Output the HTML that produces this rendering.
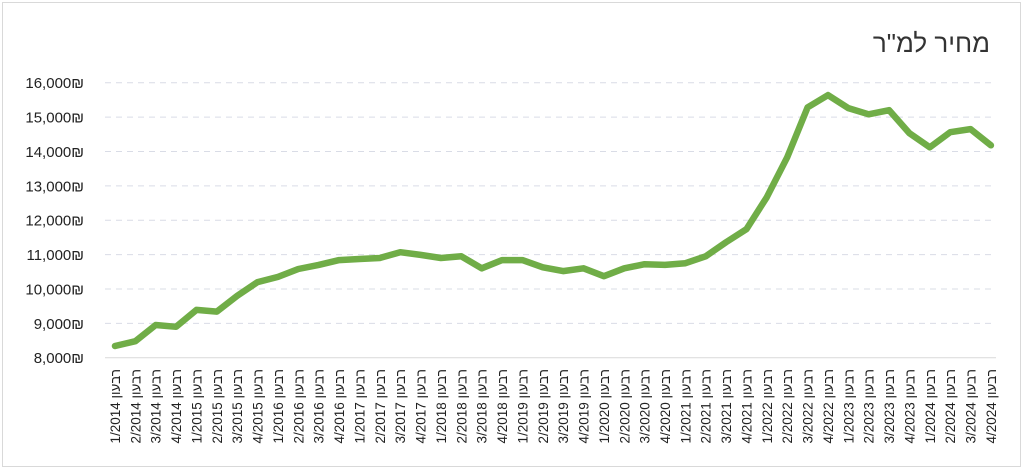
<!DOCTYPE html>
<html><head><meta charset="utf-8"><style>
html,body{margin:0;padding:0;background:#fff;}
svg{display:block;font-family:"Liberation Sans","DejaVu Sans",sans-serif;}
</style></head><body>
<svg width="1024" height="471" viewBox="0 0 1024 471" xmlns="http://www.w3.org/2000/svg">
<rect x="2.5" y="2.5" width="1018" height="464" fill="#fff" stroke="#d9d9d9" stroke-width="1"/>
<text x="990" y="52" text-anchor="end" font-size="26" fill="#333" font-family="Liberation Sans, DejaVu Sans, sans-serif">מחיר למ"ר</text>
<g id="grid" stroke="#d9dce6" stroke-width="1" stroke-dasharray="6,5"></g>
<line x1="105" y1="357.7" x2="996" y2="357.7" stroke="#d9d9d9" stroke-width="1"/>
<g id="ylab" font-size="15" fill="#222" text-anchor="end"></g>
<g id="xlab" font-size="13.5" fill="#222"></g>
<polyline id="line" fill="none" stroke="#70ad47" stroke-width="6.5" stroke-linejoin="round" stroke-linecap="round"/>
</svg>
<script>
var vals=[8340,8480,8950,8900,9390,9340,9800,10200,10350,10580,10700,10840,10870,10900,11070,10990,10900,10950,10600,10840,10840,10630,10520,10600,10370,10600,10720,10700,10750,10950,11360,11740,12670,13830,15280,15640,15260,15080,15200,14530,14120,14560,14650,14180];
function Y(v){return 357.7-(v-8000)*0.034375;}
var ns="http://www.w3.org/2000/svg";
var g=document.getElementById('grid'),yl=document.getElementById('ylab'),xl=document.getElementById('xlab');
for(var v=8000;v<=16000;v+=1000){
 if(v>8000){var l=document.createElementNS(ns,'line');l.setAttribute('x1',105);l.setAttribute('x2',996);l.setAttribute('y1',Y(v));l.setAttribute('y2',Y(v));g.appendChild(l);}
 var t=document.createElementNS(ns,'text');t.setAttribute('x',84);t.setAttribute('y',Y(v)+5.5);
 t.textContent=(v/1000)+',000\u20AA';yl.appendChild(t);
}
var pts=[];
for(var i=0;i<vals.length;i++){
 var x=115+i*20.37;pts.push(x.toFixed(1)+','+Y(vals[i]).toFixed(1));
 var q=(i%4)+1,yr=2014+Math.floor(i/4);
 var t=document.createElementNS(ns,'text');
 t.setAttribute('transform','translate('+(x+5)+',369) rotate(-90)');
 t.setAttribute('text-anchor','end');
 t.textContent=q+'/'+yr+' \u05E8\u05D1\u05E2\u05D5\u05DF';xl.appendChild(t);
}
document.getElementById('line').setAttribute('points',pts.join(' '));
</script>
</body></html>
